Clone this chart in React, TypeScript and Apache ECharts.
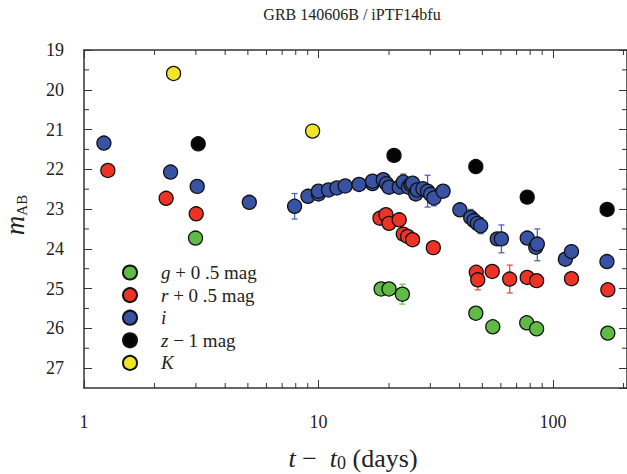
import React, { useEffect, useRef } from "react";
import * as echarts from "echarts";

const X_MIN = 1;
const X_MAX = 207;
const Y_MIN = 19;
const Y_MAX = 27.5;

const xMajorLabels = [1, 10, 100];
const xMinorTicks = [2, 3, 4, 5, 6, 7, 8, 9, 20, 30, 40, 50, 60, 70, 80, 90, 200];
const yMinorTicks = [19.5, 20.5, 21.5, 22.5, 23.5, 24.5, 25.5, 26.5];

const SP = "{sp|\u00a0\u00a0\u00a0\u00a0}";
const seriesNames = ["g", "r", "i", "z", "K"];
const legendLabels: Record<string, string> = {
  g: SP + "{it|g} + 0 .5 mag",
  r: SP + "{it|r} + 0 .5 mag",
  i: SP + "{it|i}",
  z: SP + "{it|z} \u2212 1 mag",
  K: SP + "{it|K}",
};

const gData = [
  [2.99, 23.73], [18.5, 25.01], [20.0, 25.01], [22.8, 25.14], [46.9, 25.62],
  [55.4, 25.96], [77.3, 25.86], [85.2, 26.01], [171.5, 26.12],
];
const gErr = [[22.8, 25.14, 0.25], [46.9, 25.62, 0.1]];

const rData = [
  [1.264, 22.03], [2.24, 22.73], [3.01, 23.12], [18.3, 23.23], [19.4, 23.14],
  [20.0, 23.36], [22.1, 23.27], [23.0, 23.63], [24.0, 23.69], [25.2, 23.77],
  [30.9, 23.97], [47.1, 24.59], [47.8, 24.78], [55.1, 24.57], [65.4, 24.76],
  [77.7, 24.72], [85.2, 24.8], [120, 24.75], [171.5, 25.03],
];
const rErr = [[22.1, 23.27, 0.1], [24.0, 23.69, 0.1], [47.8, 24.78, 0.25], [65.4, 24.76, 0.35]];

const iData = [
  [1.216, 21.34], [2.34, 22.07], [3.04, 22.43], [5.07, 22.83], [7.91, 22.93],
  [9.02, 22.68], [10.0, 22.62], [10.0, 22.55], [11.04, 22.52], [11.99, 22.47],
  [13.0, 22.42], [14.9, 22.38], [17.0, 22.36], [17.0, 22.3], [18.9, 22.26],
  [19.5, 22.36], [20.0, 22.45], [22.1, 22.45], [23.0, 22.32], [24.2, 22.45],
  [24.8, 22.38], [25.2, 22.35], [26.0, 22.62], [26.4, 22.52], [27.9, 22.49],
  [29.2, 22.55], [30.1, 22.63], [31.1, 22.72], [34.0, 22.55], [40.1, 23.02],
  [44.6, 23.21], [46.1, 23.29], [47.6, 23.36], [49.2, 23.42], [57.9, 23.75],
  [60.3, 23.75], [77.7, 23.73], [84.5, 23.96], [85.8, 23.88], [113, 24.26],
  [120, 24.07], [170, 24.32],
];
const iErr = [
  [7.91, 22.93, 0.32], [23.0, 22.32, 0.2], [29.2, 22.55, 0.4], [31.1, 22.72, 0.2],
  [44.6, 23.21, 0.2], [49.2, 23.42, 0.2], [60.3, 23.75, 0.35], [85.8, 23.9, 0.4],
  [113, 24.26, 0.15],
];

const zData = [[3.07, 21.36], [21.0, 21.65], [46.9, 21.93], [77.7, 22.7], [170.3, 23.01]];
const KData = [[2.41, 19.59], [9.44, 21.04]];

const colors = {
  g: "#5fba46",
  r: "#ec3326",
  i: "#3853a4",
  z: "#050505",
  K: "#f1e626",
};
const errColors = { g: "#77c35a", r: "#f04a3e", i: "#4c66b4" };

const SERIF = "'Liberation Serif', 'DejaVu Serif', serif";
const AXIS_COLOR = "#333";

function scatter(name: string, data: number[][]) {
  return {
    type: "scatter",
    name,
    data,
    symbol: "circle",
    symbolSize: 14,
    z: 3,
    itemStyle: {
      color: (colors as any)[name],
      borderColor: "#111",
      borderWidth: 1.3,
      opacity: 1,
    },
    emphasis: { disabled: true },
  };
}

function errSeries(name: string, data: number[][]) {
  const color = (errColors as any)[name];
  return {
    type: "custom",
    data,
    z: 2,
    silent: true,
    renderItem: (params: any, api: any) => {
      const x = api.value(0);
      const y = api.value(1);
      const e = api.value(2);
      const top = api.coord([x, y - e]);
      const bot = api.coord([x, y + e]);
      const st = { stroke: color, lineWidth: 1.3 };
      return {
        type: "group",
        children: [
          { type: "line", shape: { x1: top[0], y1: top[1], x2: bot[0], y2: bot[1] }, style: st },
          { type: "line", shape: { x1: top[0] - 3, y1: top[1], x2: top[0] + 3, y2: top[1] }, style: st },
          { type: "line", shape: { x1: bot[0] - 3, y1: bot[1], x2: bot[0] + 3, y2: bot[1] }, style: st },
        ],
      };
    },
  };
}

export default function App() {
  const ref = useRef<HTMLDivElement>(null);
  useEffect(() => {
    if (!ref.current) return;
    const chart = echarts.init(ref.current, undefined, { renderer: "svg" });

    const isPow10 = (v: number) => {
      const l = Math.log10(v);
      return Math.abs(l - Math.round(l)) < 1e-6 && xMajorLabels.includes(Math.round(v));
    };

    const tickStyle = { stroke: AXIS_COLOR, lineWidth: 1 };

    const option: any = {
      animation: false,
      grid: { left: 84, top: 50, right: -1, bottom: 86, containLabel: false },
      xAxis: [
        {
          type: "log",
          logBase: 10,
          min: X_MIN,
          max: X_MAX,
          position: "bottom",
          axisLine: { show: true, onZero: false, lineStyle: { color: AXIS_COLOR, width: 1.5 } },
          axisTick: { show: true, inside: true, length: 8, lineStyle: { color: AXIS_COLOR, width: 1 } },
          axisLabel: {
            show: true,
            margin: 25,
            showMaxLabel: false,
            fontFamily: SERIF,
            fontSize: 18,
            color: "#222",
            formatter: (v: number) => (isPow10(v) ? String(Math.round(v)) : ""),
          },
          splitLine: { show: false },
        },
        {
          type: "log",
          logBase: 10,
          min: X_MIN,
          max: X_MAX,
          position: "top",
          axisLine: { show: true, onZero: false, lineStyle: { color: AXIS_COLOR, width: 1.5 } },
          axisTick: { show: true, inside: true, length: 8, lineStyle: { color: AXIS_COLOR, width: 1 } },
          axisLabel: { show: false },
          splitLine: { show: false },
        },
      ],
      yAxis: [
        {
          type: "value",
          inverse: true,
          min: Y_MIN,
          max: Y_MAX,
          interval: 1,
          position: "left",
          axisLine: { show: true, onZero: false, lineStyle: { color: AXIS_COLOR, width: 1.5 } },
          axisTick: { show: true, inside: true, length: 8, lineStyle: { color: AXIS_COLOR, width: 1 } },
          axisLabel: {
            margin: 20,
            fontFamily: SERIF,
            fontSize: 18,
            color: "#222",
            showMaxLabel: false,
            formatter: (v: number) => (Number.isInteger(v) ? String(v) : ""),
          },
          splitLine: { show: false },
        },
        {
          type: "value",
          inverse: true,
          min: Y_MIN,
          max: Y_MAX,
          interval: 1,
          position: "right",
          axisLine: { show: true, onZero: false, lineStyle: { color: AXIS_COLOR, width: 1.5 } },
          axisTick: { show: true, inside: true, length: 8, lineStyle: { color: AXIS_COLOR, width: 1 } },
          axisLabel: { show: false },
          splitLine: { show: false },
        },
      ],
      legend: {
        show: true,
        orient: "vertical",
        left: 122,
        top: 263,
        padding: 0,
        itemWidth: 14,
        itemHeight: 14,
        itemGap: 3.6,
        icon: "circle",
        selectedMode: false,
        data: seriesNames,
        formatter: (name: string) => legendLabels[name],
        textStyle: {
          fontFamily: SERIF,
          fontSize: 19,
          color: "#222",
          lineHeight: 14,
          rich: {
            sp: { fontFamily: SERIF, fontSize: 19, lineHeight: 14 },
            it: { fontFamily: SERIF, fontStyle: "italic", fontSize: 19, color: "#222", lineHeight: 14 },
          },
        },
      },
      graphic: [
        {
          type: "text",
          x: 352,
          y: 14,
          style: {
            text: "GRB 140606B / iPTF14bfu",
            font: `16px ${SERIF}`,
            fill: "#222",
            textAlign: "center",
            textVerticalAlign: "middle",
          },
        },
        {
          type: "text",
          x: 353,
          y: 458,
          style: {
            text: "{it|t} \u2212  {it|t}{sub|0} (days)",
            fontFamily: SERIF,
            fontSize: 26,
            fill: "#222",
            textAlign: "center",
            textVerticalAlign: "middle",
            rich: {
              it: { fontFamily: SERIF, fontStyle: "italic", fontSize: 26, lineHeight: 28 },
              sub: { fontFamily: SERIF, fontSize: 18, lineHeight: 8, verticalAlign: "bottom" },
            },
          },
        },
        {
          type: "text",
          x: 15,
          y: 215,
          rotation: Math.PI / 2,
          style: {
            text: "{m|m}{sub|AB}",
            fill: "#222",
            textAlign: "center",
            textVerticalAlign: "middle",
            rich: {
              m: { fontFamily: SERIF, fontStyle: "italic", fontSize: 27, lineHeight: 28 },
              sub: { fontFamily: SERIF, fontSize: 15, lineHeight: 8, verticalAlign: "bottom" },
            },
          },
        },
      ],
      series: [
        {
          type: "custom",
          silent: true,
          z: 1,
          data: xMinorTicks.map((v) => [v, Y_MAX]),
          renderItem: (params: any, api: any) => {
            const v = api.value(0);
            const b = api.coord([v, Y_MAX]);
            const t = api.coord([v, Y_MIN]);
            return {
              type: "group",
              children: [
                { type: "line", shape: { x1: b[0], y1: b[1], x2: b[0], y2: b[1] - 5 }, style: tickStyle },
                { type: "line", shape: { x1: t[0], y1: t[1], x2: t[0], y2: t[1] + 5 }, style: tickStyle },
              ],
            };
          },
        },
        {
          type: "custom",
          silent: true,
          z: 1,
          data: yMinorTicks.map((v) => [X_MIN, v]),
          renderItem: (params: any, api: any) => {
            const v = api.value(1);
            const l = api.coord([X_MIN, v]);
            const r = api.coord([X_MAX, v]);
            return {
              type: "group",
              children: [
                { type: "line", shape: { x1: l[0], y1: l[1], x2: l[0] + 5, y2: l[1] }, style: tickStyle },
                { type: "line", shape: { x1: r[0], y1: r[1], x2: r[0] - 5, y2: r[1] }, style: tickStyle },
              ],
            };
          },
        },
        errSeries("g", gErr),
        errSeries("r", rErr),
        errSeries("i", iErr),
        scatter("g", gData),
        scatter("r", rData),
        scatter("i", iData),
        scatter("z", zData),
        scatter("K", KData),
      ],
    };
    chart.setOption(option);
    return () => chart.dispose();
  }, []);

  return (
    <div
      ref={ref}
      style={{ position: "fixed", left: 0, top: 0, width: 627, height: 474, background: "#fff" }}
    />
  );
}
